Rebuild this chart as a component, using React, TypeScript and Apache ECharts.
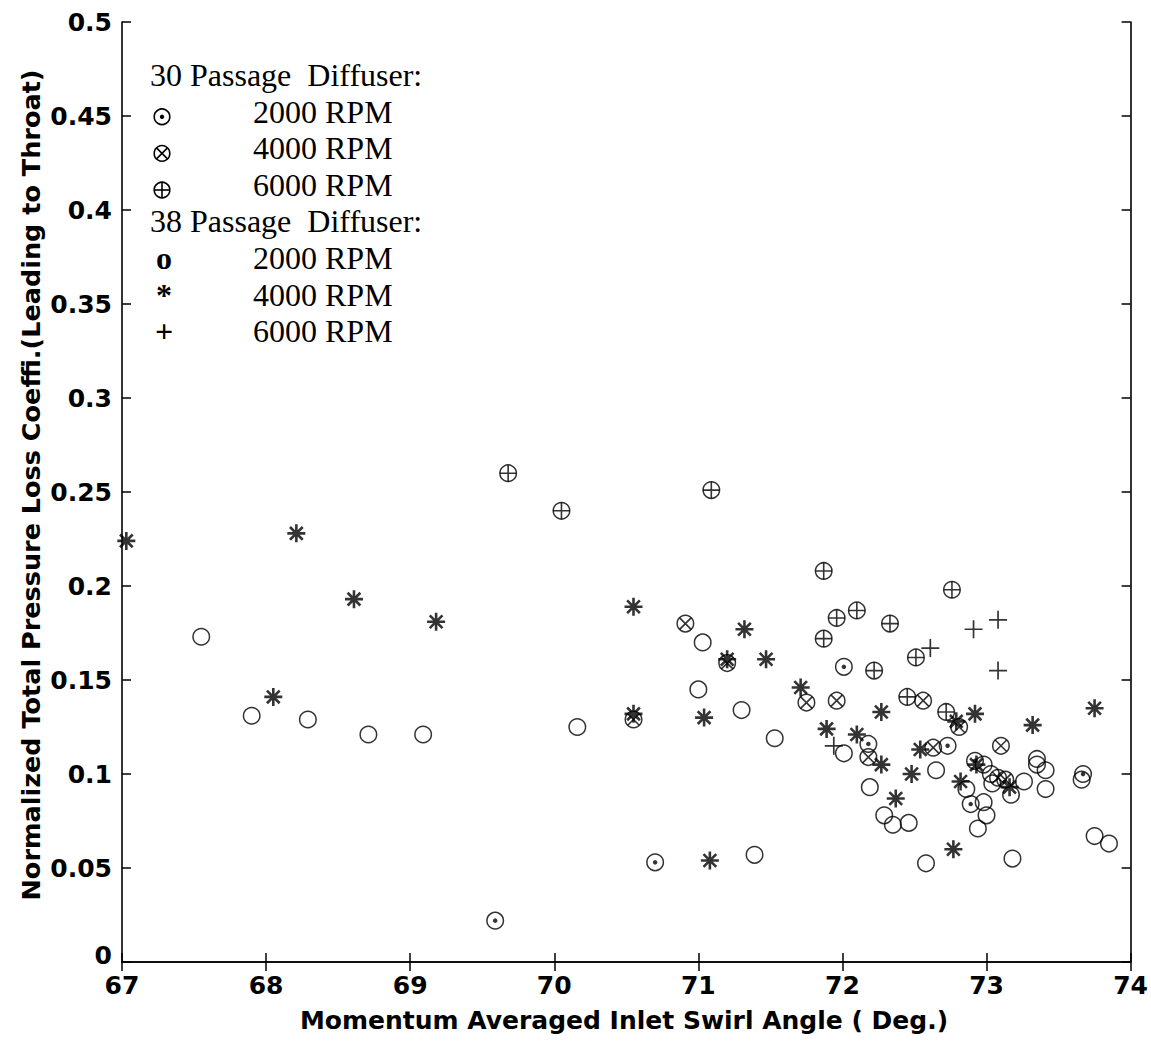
import React, { useEffect, useRef } from "react";
import * as echarts from "echarts";

// ---- data (x: inlet swirl angle deg, y: loss coefficient) ----
const pass30rpm2000: [number, number][] = [
  [69.59, 0.022], [70.7, 0.053], [72.01, 0.157], [72.18, 0.116], [72.73, 0.115],
  [72.92, 0.107], [72.89, 0.084], [73.67, 0.1],
];
const pass30rpm4000: [number, number][] = [
  [70.91, 0.18], [71.2, 0.159], [70.55, 0.129], [71.75, 0.138], [71.96, 0.139],
  [72.18, 0.109], [72.56, 0.139], [72.81, 0.125], [72.63, 0.114], [73.1, 0.115],
  [73.08, 0.098], [73.13, 0.097],
];
const pass30rpm6000: [number, number][] = [
  [69.68, 0.26], [70.05, 0.24], [71.09, 0.251], [71.87, 0.208], [71.87, 0.172],
  [71.96, 0.183], [72.1, 0.187], [72.22, 0.155], [72.33, 0.18], [72.51, 0.162],
  [72.76, 0.198], [72.45, 0.141], [72.72, 0.133],
];
const pass38rpm2000: [number, number][] = [
  [67.55, 0.173], [67.9, 0.131], [68.29, 0.129], [68.71, 0.121], [69.09, 0.121],
  [70.16, 0.125], [71.03, 0.17], [71.0, 0.145], [71.3, 0.134], [71.53, 0.119],
  [71.39, 0.057], [72.01, 0.111], [72.19, 0.093], [72.29, 0.078], [72.35, 0.073],
  [72.46, 0.074], [72.58, 0.0525], [72.65, 0.102], [72.86, 0.092], [72.94, 0.071],
  [73.0, 0.078], [72.98, 0.085], [72.98, 0.105], [73.03, 0.1], [73.04, 0.095],
  [73.17, 0.089], [73.18, 0.055], [73.26, 0.096], [73.35, 0.108], [73.35, 0.105],
  [73.41, 0.102], [73.41, 0.092], [73.66, 0.097], [73.75, 0.067], [73.85, 0.063],
];
const pass38rpm4000: [number, number][] = [
  [67.03, 0.224], [68.21, 0.228], [68.61, 0.193], [69.18, 0.181], [68.05, 0.141],
  [70.55, 0.189], [70.55, 0.132], [71.04, 0.13], [71.08, 0.054], [71.2, 0.161],
  [71.32, 0.177], [71.47, 0.161], [71.71, 0.146], [71.89, 0.124], [72.1, 0.121],
  [72.27, 0.133], [72.27, 0.105], [72.37, 0.087], [72.48, 0.1], [72.54, 0.113],
  [72.79, 0.128], [72.92, 0.132], [72.82, 0.096], [72.93, 0.105], [73.16, 0.093],
  [73.32, 0.126], [73.75, 0.135], [72.77, 0.06],
];
const pass38rpm6000: [number, number][] = [
  [71.94, 0.115], [72.61, 0.167], [72.91, 0.177], [73.08, 0.182], [73.08, 0.155],
];

const legendHeaders = ["30 Passage\u00A0 Diffuser:", "38 Passage\u00A0 Diffuser:"];
const legendLabels = ["2000 RPM", "4000 RPM", "6000 RPM"];
const xTitle = "Momentum Averaged Inlet Swirl Angle ( Deg.)";
const yTitle = "Normalized Total Pressure Loss Coeffi.(Leading to Throat)";

const X_MIN = 67, X_MAX = 74, X_STEP = 1;
const Y_MIN = 0, Y_MAX = 0.5, Y_STEP = 0.05;

const SANS = '"DejaVu Sans", Arial, sans-serif';
const SERIF = '"Liberation Serif", "Times New Roman", serif';

const PATH_X = "path://M0,0L10,10M10,0L0,10";
const PATH_PLUS = "path://M5,0L5,10M0,5L10,5";
const PATH_STAR = "path://M5,0L5,10M0,5L10,5M1.46,1.46L8.54,8.54M8.54,1.46L1.46,8.54";

const hollow = { color: "rgba(0,0,0,0)", borderColor: "#000", borderWidth: 1.5 };
const stroked = (w: number) => ({ color: "none", borderColor: "#000", borderWidth: w });

function scatter(name: string, data: [number, number][], symbol: string, size: number, itemStyle: any) {
  return {
    type: "scatter", name, data, symbol, symbolSize: size, itemStyle,
    silent: true, emphasis: { disabled: true }, xAxisIndex: 0, yAxisIndex: 0,
  };
}

function legendGraphics() {
  const els: any[] = [];
  const base = (i: number) => 85.7 + 36.6 * i;
  const sx = 162;
  const headerFont = `32px ${SERIF}`;
  legendHeaders.forEach((h, g) => {
    const row = g * 4;
    els.push({ type: "text", x: 150, y: base(row) - 10.8,
      style: { text: h, font: headerFont, fill: "#000", align: "left", verticalAlign: "middle", textAlign: "left", textVerticalAlign: "middle" } });
    legendLabels.forEach((l, k) => {
      const r = row + k + 1;
      els.push({ type: "text", x: 253, y: base(r) - 10.8,
        style: { text: l, font: headerFont, fill: "#000", align: "left", verticalAlign: "middle", textAlign: "left", textVerticalAlign: "middle" } });
      const cy = base(r) - 5.5;
      if (g === 0) {
        els.push({ type: "circle", shape: { cx: sx, cy, r: 7.8 }, style: { fill: "none", stroke: "#000", lineWidth: 1.6 } });
        if (k === 0) els.push({ type: "circle", shape: { cx: sx, cy, r: 2.2 }, style: { fill: "#000" } });
        if (k === 1) {
          const d = 5.5;
          els.push({ type: "line", shape: { x1: sx - d, y1: cy - d, x2: sx + d, y2: cy + d }, style: { stroke: "#000", lineWidth: 1.6 } });
          els.push({ type: "line", shape: { x1: sx + d, y1: cy - d, x2: sx - d, y2: cy + d }, style: { stroke: "#000", lineWidth: 1.6 } });
        }
        if (k === 2) {
          els.push({ type: "line", shape: { x1: sx - 7.8, y1: cy, x2: sx + 7.8, y2: cy }, style: { stroke: "#000", lineWidth: 1.6 } });
          els.push({ type: "line", shape: { x1: sx, y1: cy - 7.8, x2: sx, y2: cy + 7.8 }, style: { stroke: "#000", lineWidth: 1.6 } });
        }
      } else {
        const ch = ["o", "*", "+"][k];
        els.push({ type: "text", x: 164, y: base(r) - 10.8,
          style: { text: ch, font: `bold ${headerFont}`, fill: "#000", align: "center", verticalAlign: "middle", textAlign: "center", textVerticalAlign: "middle" } });
      }
    });
  });
  els.push({ type: "text", x: 624, y: 1020,
    style: { text: xTitle, font: `bold 25px ${SANS}`, fill: "#000", align: "center", verticalAlign: "middle", textAlign: "center", textVerticalAlign: "middle" } });
  els.push({ type: "text", x: 31, y: 485, rotation: Math.PI / 2,
    style: { text: yTitle, font: `bold 25.5px ${SANS}`, fill: "#000", align: "center", verticalAlign: "middle", textAlign: "center", textVerticalAlign: "middle" } });
  return els;
}

const axisLineStyle = { show: true, lineStyle: { color: "#000", width: 1.6 } };
const tickStyle = { show: true, inside: true, length: 9, lineStyle: { color: "#000", width: 1.5 } };
const labelStyle = { color: "#000", fontFamily: SANS, fontWeight: "bold" as const, fontSize: 25, lineHeight: 18 };

export default function App() {
  const ref = useRef<HTMLDivElement>(null);
  useEffect(() => {
    if (!ref.current) return;
    const chart = echarts.init(ref.current, undefined, { renderer: "svg" });
    chart.setOption({
      animation: false,
      backgroundColor: "#fff",
      grid: { left: 122, right: 15, top: 22, bottom: 86, containLabel: false },
      xAxis: [
        { type: "value", min: X_MIN, max: X_MAX, interval: X_STEP, position: "bottom",
          axisLine: axisLineStyle, axisTick: tickStyle, splitLine: { show: false },
          axisLabel: { ...labelStyle, margin: 14 } },
        { type: "value", min: X_MIN, max: X_MAX, interval: X_STEP, position: "top",
          axisLine: axisLineStyle, axisTick: tickStyle, splitLine: { show: false },
          axisLabel: { show: false } },
      ],
      yAxis: [
        { type: "value", min: Y_MIN, max: Y_MAX, interval: Y_STEP, position: "left",
          axisLine: axisLineStyle, axisTick: tickStyle, splitLine: { show: false },
          axisLabel: {
            ...labelStyle, margin: 10,
            formatter: (v: number) => (v === 0 ? "{z|0}" : String(+v.toFixed(2))),
            rich: { z: { ...labelStyle, padding: [0, 0, 14, 0] } },
          } },
        { type: "value", min: Y_MIN, max: Y_MAX, interval: Y_STEP, position: "right",
          axisLine: axisLineStyle, axisTick: tickStyle, splitLine: { show: false },
          axisLabel: { show: false } },
      ],
      series: [
        scatter("30 Passage 2000 RPM", pass30rpm2000, "circle", 16.5, hollow),
        scatter("30 Passage 2000 RPM dot", pass30rpm2000, "circle", 4.5, { color: "#000" }),
        scatter("30 Passage 4000 RPM", pass30rpm4000, "circle", 16.5, hollow),
        scatter("30 Passage 4000 RPM x", pass30rpm4000, PATH_X, 11.5, stroked(1.6)),
        scatter("30 Passage 6000 RPM", pass30rpm6000, "circle", 16.5, hollow),
        scatter("30 Passage 6000 RPM +", pass30rpm6000, PATH_PLUS, 16.5, stroked(1.6)),
        scatter("38 Passage 2000 RPM", pass38rpm2000, "circle", 16.5, hollow),
        scatter("38 Passage 4000 RPM", pass38rpm4000, PATH_STAR, 18, stroked(2.6)),
        scatter("38 Passage 6000 RPM", pass38rpm6000, PATH_PLUS, 18, stroked(1.7)),
      ],
      graphic: legendGraphics(),
    });
    return () => chart.dispose();
  }, []);
  return (
    <div
      ref={ref}
      style={{ position: "absolute", left: 0, top: 0, width: 1151, height: 1048, background: "#fff" }}
    />
  );
}
